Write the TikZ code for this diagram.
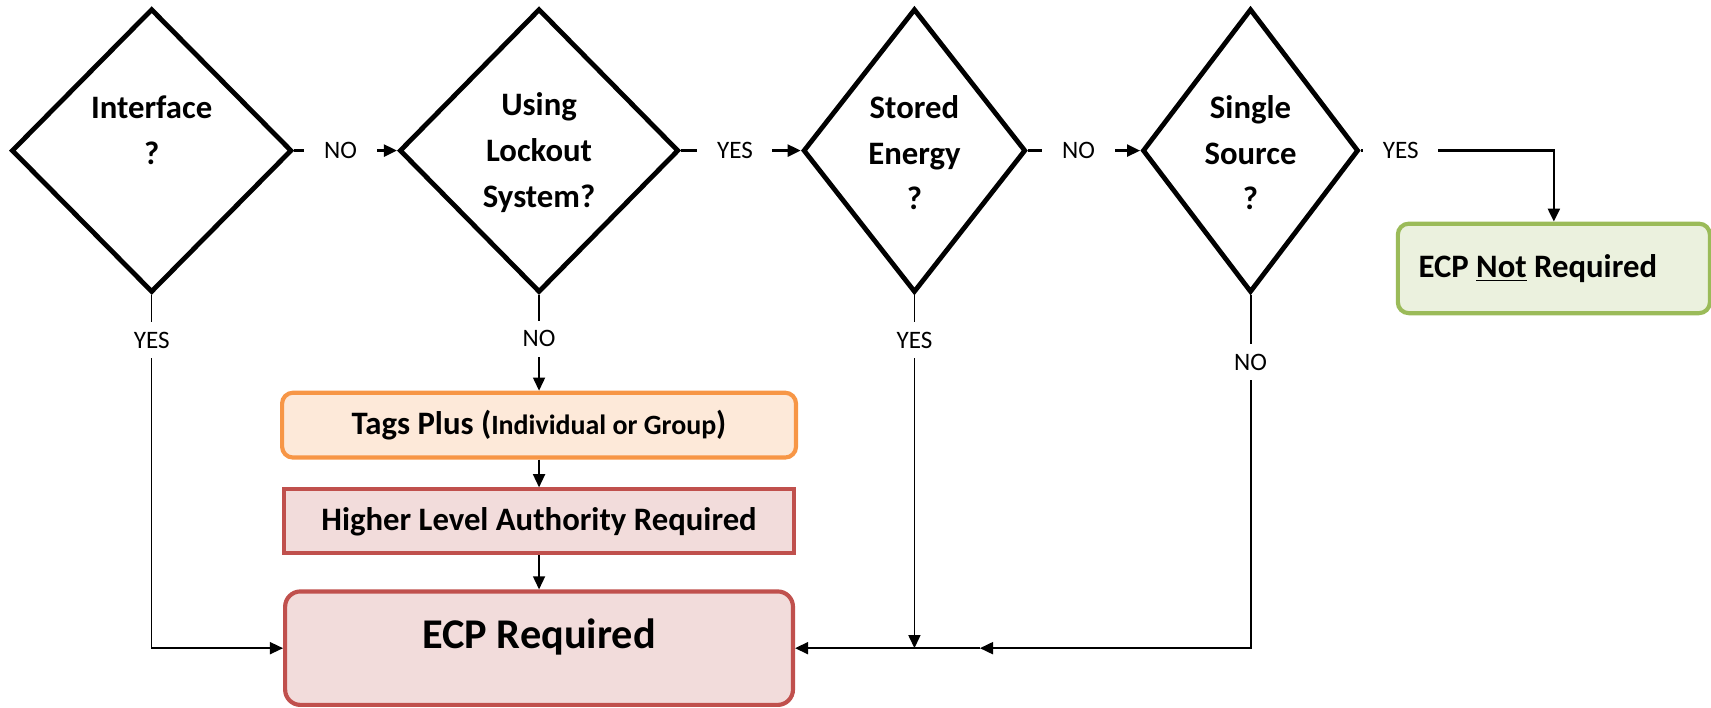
\documentclass[tikz,border=0pt]{standalone}
\usepackage{fontspec}
\setmainfont{Carlito}
\usetikzlibrary{shapes.geometric,arrows.meta}
\definecolor{tagline}{HTML}{F79646}
\definecolor{tagfill}{HTML}{FDE9D9}
\definecolor{ecpline}{HTML}{C0504D}
\definecolor{ecpfill}{HTML}{F2DCDB}
\definecolor{notline}{HTML}{9BBB59}
\definecolor{notfill}{HTML}{EBF1DE}

\begin{document}
\begin{tikzpicture}[x=1pt,y=-1pt,
        decision/.style={diamond,draw,line width=2.2pt,minimum height=130pt,inner sep=0pt},
        qtext/.style={align=center,font=\fontsize{15}{21}\selectfont\bfseries},
        box/.style={draw,line width=1.9pt,inner sep=0pt,font=\fontsize{15}{18}\selectfont\bfseries},
        flow/.style={line width=0.75pt,-{Triangle[length=6pt,width=5.5pt]}},
        flowthick/.style={flow,line width=1.1pt},
        lbl/.style={fill=white,inner xsep=9pt,inner ysep=4.5pt,font=\fontsize{11.5}{13}\selectfont}]
        \useasboundingbox (0,0) rectangle (784,324);
        \foreach \n/\x/\w/\t in {q1/69.5/128.5/{Interface\\?\\~},q2/247/128/{Using\\Lockout\\System?},
                q3/419/102/{Stored\\Energy\\?},q4/573/99/{Single\\Source\\?}} {
            \node[decision,minimum width=\w pt] (\n) at (\x,69) {};
            \node[qtext] (\n-t) at ([yshift=-1pt]\n.center) {\t};
        }
        \node[box,rounded corners=5pt,draw=tagline,fill=tagfill,minimum width=235.5pt,minimum height=29.7pt] (tags) at (247,194.8)
            {Tags Plus ({\fontsize{12.8}{14}\selectfont Individual or Group})};
        \node[box,draw=ecpline,fill=ecpfill,minimum width=233.4pt,minimum height=29.3pt] (hla) at (247,238.9)
            {Higher Level Authority Required};
        \node[box,rounded corners=7pt,draw=ecpline,fill=ecpfill,minimum width=232.7pt,minimum height=52pt,
            font=\fontsize{19.4}{23}\selectfont\bfseries,text height=12pt,text depth=12pt] (ecp) at (247,297) {ECP Required};
        \node[box,rounded corners=5pt,draw=notline,fill=notfill,minimum width=143pt,minimum height=41pt] (notreq) at (712,123)
            {\makebox[124pt][l]{ECP \underline{Not} Required}};
        \coordinate (j3) at (419,297);
        \coordinate (j4) at (449,297);
        \draw[flowthick] (q1.east) -- node[lbl,pos=0.45] (l1) {NO} (q2.west);
        \draw[flowthick] (q2.east) -- node[lbl,pos=0.45] (l2) {YES} (q3.west);
        \draw[flowthick] (q3.east) -- node[lbl,pos=0.45] (l3) {NO} (q4.west);
        \draw[flowthick] (q4.east) -| node[lbl,pos=0.103] (l4) {YES} (notreq.north);
        \draw[flow] (q1.south) |- node[lbl,pos=0.064] (l5) {YES} (ecp.west);
        \draw[flow] (q2.south) -- node[lbl,pos=0.457] (l6) {NO} (tags.north);
        \draw[flow] (tags) -- (hla);
        \draw[flow] (hla) -- (ecp);
        \draw[flow] (q3.south) -- node[lbl,pos=0.128] (l7) {YES} (j3);
        \draw[flow,line width=0.9pt] (q4.south) |- node[lbl,pos=0.095] (l8) {NO} (j4);
        \draw[flow,line width=0.9pt] (j4) -- (ecp.east);
    \end{tikzpicture}
\end{document}
